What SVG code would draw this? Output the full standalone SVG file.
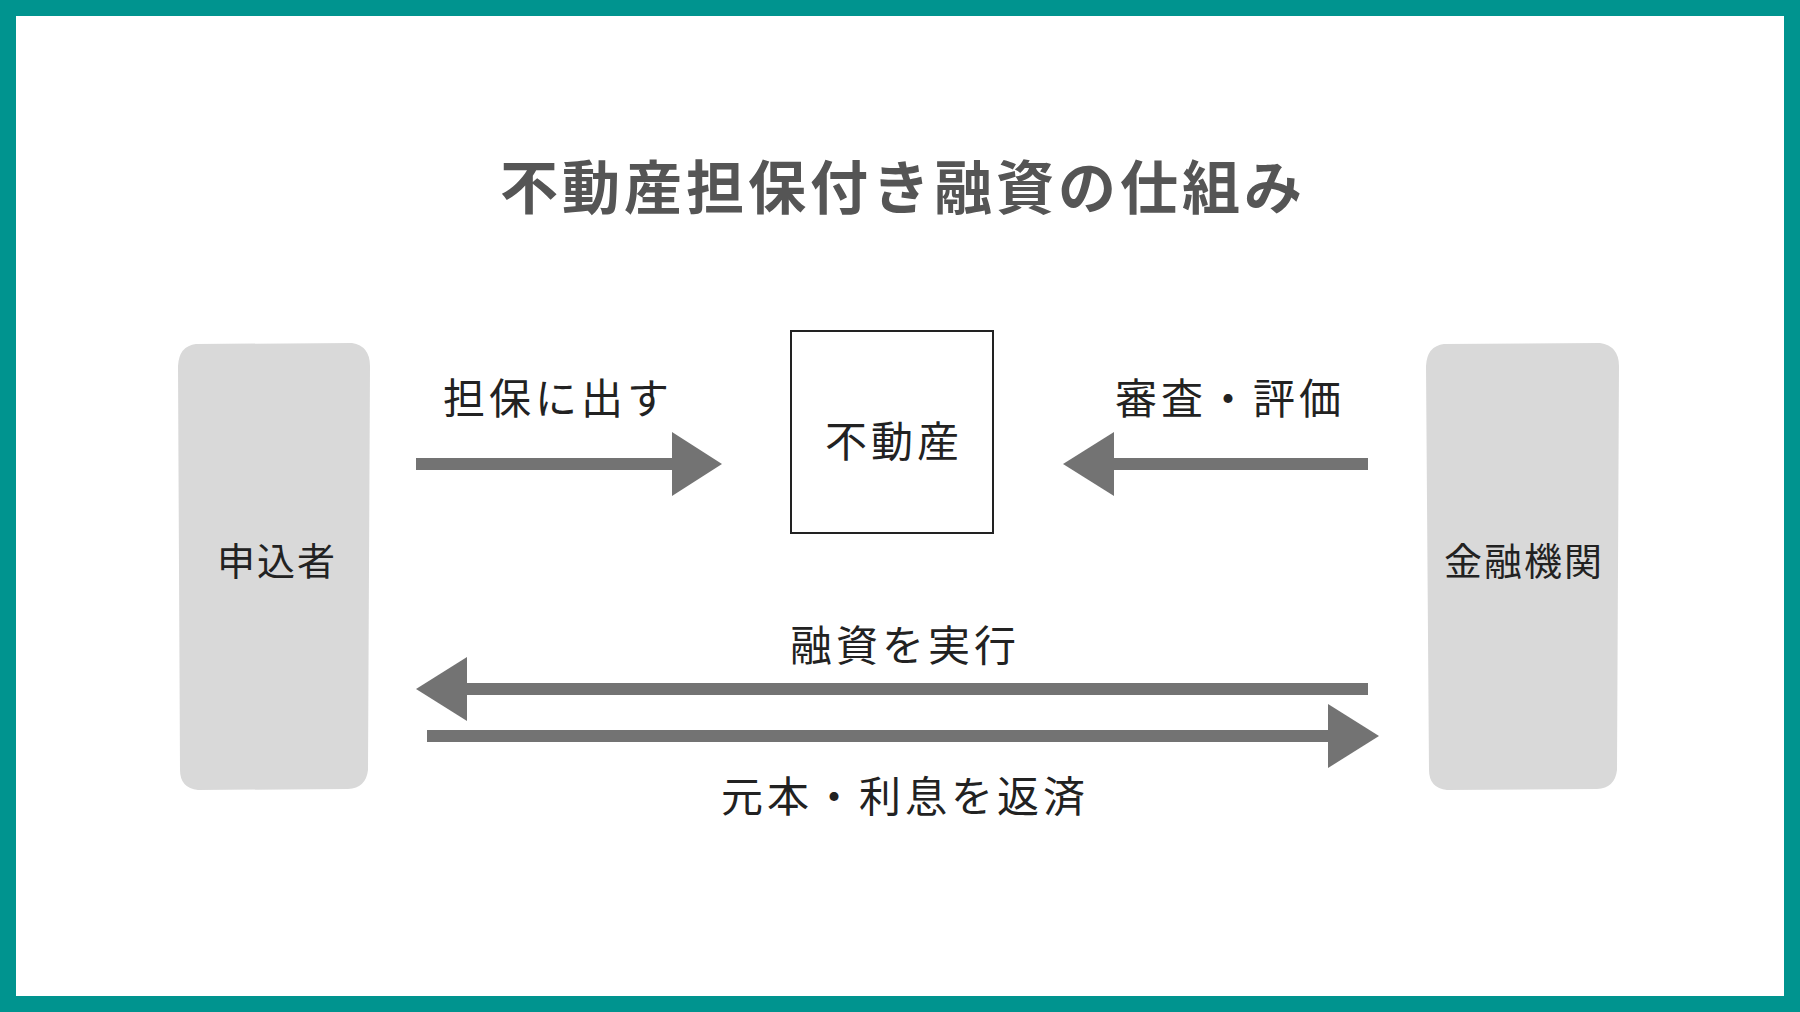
<svg xmlns="http://www.w3.org/2000/svg" width="1800" height="1012" viewBox="0 0 1800 1012">
<style>
text{font-family:"Noto Sans CJK JP","Noto Sans",sans-serif;text-anchor:middle;dominant-baseline:central;fill:#222}
.lbl{font-size:42px;letter-spacing:4px}
.ent{fill:#d9d9d9}
.ln{stroke:#737373;stroke-width:12;fill:none}
.hd{fill:#737373}
</style>
<rect x="8" y="8" width="1784" height="996" fill="#fff" stroke="#00948f" stroke-width="16"/>
<text x="903" y="184" style="font-size:58px;font-weight:bold;fill:#555;letter-spacing:4px">不動産担保付き融資の仕組み</text>
<g id="applicant"><path class="ent" d="M196,344 L352,343 Q370,346 370,366 L368,770 Q366,788 348,789 L198,790 Q180,788 180,770 L178,366 Q179,346 196,344Z"/><text class="lbl" x="277" y="558" style="font-size:38px;letter-spacing:2px">申込者</text></g>
<g id="bank"><path class="ent" d="M1444,344 L1600,343 Q1619,346 1619,366 L1617,770 Q1615,788 1597,789 L1447,790 Q1429,788 1429,770 L1426,366 Q1427,346 1444,344Z"/><text class="lbl" x="1524" y="558" style="font-size:38px;letter-spacing:2px">金融機関</text></g>
<g id="property"><rect x="791" y="331" width="202" height="202" fill="#fff" stroke="#222" stroke-width="2"/><text class="lbl" x="894" y="438">不動産</text></g>
<g id="connectors">
<line class="ln" x1="416" y1="464" x2="674" y2="464"/><polygon class="hd" points="672,432 722,464 672,496"/>
<line class="ln" x1="1368" y1="464" x2="1112" y2="464"/><polygon class="hd" points="1114,432 1063,464 1114,496"/>
<line class="ln" x1="1368" y1="689" x2="465" y2="689"/><polygon class="hd" points="467,657 416,689 467,721"/>
<line class="ln" x1="427" y1="736" x2="1330" y2="736"/><polygon class="hd" points="1328,704 1379,736 1328,768"/>
</g>
<text class="lbl" x="558" y="395">担保に出す</text>
<text class="lbl" x="1230" y="395">審査・評価</text>
<text class="lbl" x="905" y="642">融資を実行</text>
<text class="lbl" x="905" y="793">元本・利息を返済</text>
</svg>
